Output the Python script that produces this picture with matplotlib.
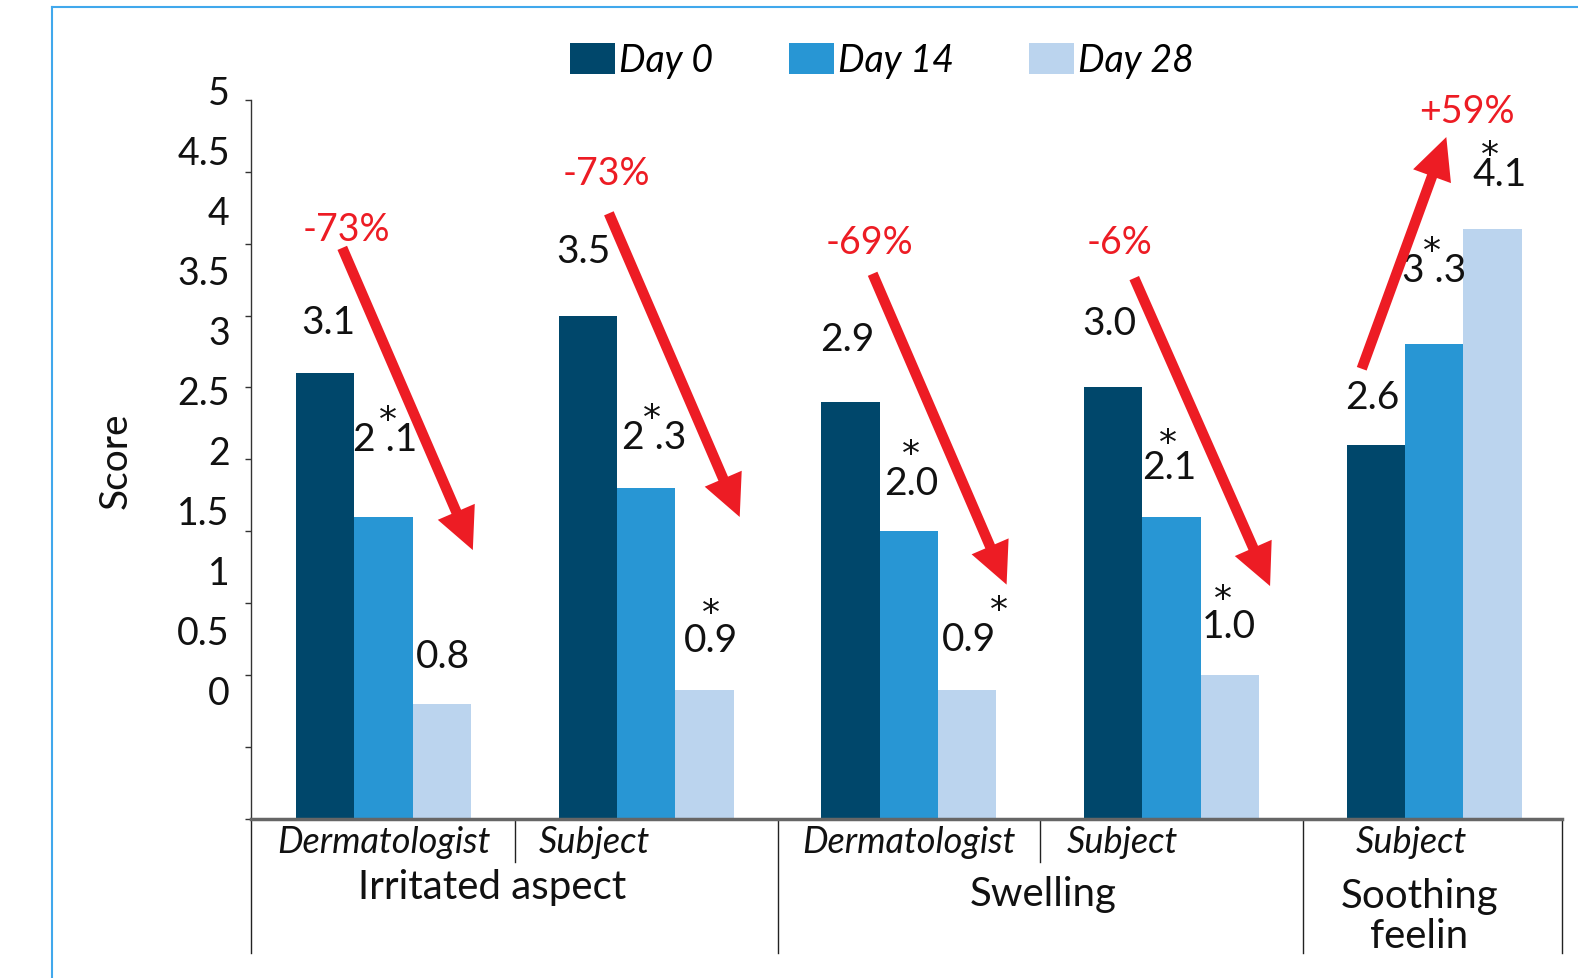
import matplotlib
matplotlib.use("Agg")
import numpy as np
import matplotlib.pyplot as plt
from matplotlib.lines import Line2D
from matplotlib.patches import Patch

plt.rcParams['font.family'] = ['Lato', 'DejaVu Sans']

# data
days = ['Day 0', 'Day 14', 'Day 28']
raters = ['Dermatologist', 'Subject', 'Dermatologist', 'Subject', 'Subject']
groups = ['Irritated aspect', 'Swelling', 'Soothing\nfeelin']
group_of = [0, 0, 1, 1, 2]
day0 = [3.1, 3.5, 2.9, 3.0, 2.6]
day14 = [2.1, 2.3, 2.0, 2.1, 3.3]
day28 = [0.8, 0.9, 0.9, 1.0, 4.1]
star14 = [True, True, True, True, True]
star28 = [False, True, True, True, True]
changes = ['-73%', '-73%', '-69%', '-6%', '+59%']
yticks = np.arange(0, 5.01, 0.5)
ytick_labels = ['0', '0.5', '1', '1.5', '2', '2.5', '3', '3.5', '4', '4.5', '5']

colors = ['#00476B', '#2896D4', '#BBD4EE']
red = '#ED1C24'
ink = '#111111'
W, H = 1578, 979
S = 1578 / 1568  # layout measured on a slightly shrunk copy

fig = plt.figure(figsize=(W / 100, H / 100), dpi=100)
ax = fig.add_axes([249 * S / W, 1 - 815 * S / H, 1303 * S / W, 715 * S / H])

w = 58 / 261
x = np.arange(len(raters))
series = [day0, day14, day28]
for i, vals in enumerate(series):
    ax.bar(x + (i - 1) * w, vals, w, color=colors[i], label=days[i])

ax.set_xlim(-0.506, 4.486)
ax.set_ylim(0, 5)
ax.set_yticks(yticks)
ax.set_yticklabels([])
ax.set_xticks([])
ax.tick_params(axis='y', direction='out', length=4.5, width=1, color='#333333')
ax.spines['top'].set_visible(False)
ax.spines['right'].set_visible(False)
ax.spines['left'].set_color('#333333')
ax.spines['left'].set_linewidth(1)
ax.spines['bottom'].set_color('#666666')
ax.spines['bottom'].set_linewidth(2.5)

# tick labels sit on their own (shifted) scale, like the original
lab = fig.add_axes([249 * S / W, 1 - 686 * S / H, 0.0001, (686 - 90) * S / H])
lab.set_ylim(0, 5)
lab.set_yticks(yticks)
lab.set_yticklabels(ytick_labels, fontsize=27, color=ink)
lab.tick_params(axis='y', length=0, pad=15)
lab.set_xticks([])
for s in lab.spines.values():
    s.set_visible(False)
lab.patch.set_visible(False)

fig.text(115 * S / W, 1 - 458 * S / H, 'Score', rotation=90, ha='center', va='center',
         fontsize=28, color=ink)

# value labels (offsets in px: dx, dy from bar top)
lab_off = [
    [(3, 51), (2, 77), (1, 48)],
    [(-4, 64), (8, 51), (6, 49)],
    [(-3, 62), (2, 48), (2, 50)],
    [(-4, 64), (-2, 50), (-1, 49)],
    [(-4, 48), (0, 74), (7, 55)],
]
star_off = [
    [None, (2, 25), None],
    [None, (-2, 25), (0, 33)],
    [None, (0, 35), (30, 35)],
    [None, (-2, 30), (-6, 33)],
    [None, (-2, 25), (-10, 25)],
]
gap = [[False, True, False], [False, True, False], [False, False, False],
       [False, False, False], [False, True, False]]
k = 0.72 * S
for g in range(len(raters)):
    for i, vals in enumerate(series):
        v = vals[g]
        txt = f'{v:.1f}'
        if gap[g][i]:
            txt = txt.replace('.', ' .')
        dx, dy = lab_off[g][i]
        ax.annotate(txt, (x[g] + (i - 1) * w, v), xytext=(dx * k, dy * k),
                    textcoords='offset points', ha='center', va='center',
                    fontsize=28, color=ink, annotation_clip=False)
        flag = [False, star14[g], star28[g]][i]
        if flag:
            sx, sy = star_off[g][i]
            ax.annotate('*', (x[g] + (i - 1) * w, v),
                        xytext=((dx + sx) * k, (dy + sy - 6) * k),
                        textcoords='offset points', ha='center', va='center',
                        fontsize=26, family='DejaVu Sans', color=ink,
                        annotation_clip=False)

# change arrows (tail, tip relative to cluster centre, data units)
arrows = [((-0.157, 3.97), (0.34, 1.87)),
          ((-0.142, 4.21), (0.356, 2.10)),
          ((-0.138, 3.79), (0.372, 1.63)),
          ((-0.142, 3.76), (0.375, 1.62)),
          ((-0.276, 3.13), (0.046, 4.74))]
pct_pos = [(-0.142, 4.10), (-0.153, 4.49), (-0.149, 4.01), (-0.199, 4.01), (0.126, 4.92)]
for g in range(len(raters)):
    (tx, ty), (hx, hy) = arrows[g]
    ax.annotate('', xy=(x[g] + hx, hy), xytext=(x[g] + tx, ty),
                arrowprops=dict(facecolor=red, edgecolor='none', width=7.5,
                                headwidth=29, headlength=30, shrink=0),
                annotation_clip=False)
    px, py = pct_pos[g]
    ax.text(x[g] + px, py, changes[g], ha='center', va='center', fontsize=27,
            color=red, clip_on=False)

# category axis below
tr = ax.get_xaxis_transform()
for xv in [-0.506, 1.5, 3.5, 4.486]:
    ax.add_line(Line2D([xv, xv], [0, -0.186], transform=tr, color='#222222',
                       lw=1, clip_on=False))
for xv in [0.5, 2.5]:
    ax.add_line(Line2D([xv, xv], [0, -0.059], transform=tr, color='#222222',
                       lw=1, clip_on=False))

sub_dx = [0, -0.199, 0, -0.188, -0.088]
for g, r in enumerate(raters):
    ax.text(x[g] + sub_dx[g], -0.0308, r, transform=tr, ha='center', va='center',
            fontsize=26, style='italic', color=ink)

grp_dx = [-0.088, 0.011, -0.057]
grp_y = [-0.0937, -0.103, -0.134]
for j, name in enumerate(groups):
    members = [g for g in range(len(raters)) if group_of[g] == j]
    cx = np.mean(x[members]) + grp_dx[j]
    ax.text(cx, grp_y[j], name, transform=tr, ha='center', va='center',
            fontsize=29, color=ink, linespacing=1.1)

# legend
handles = [Patch(facecolor=c, edgecolor='none') for c in colors]
leg = fig.legend(handles, days, loc='center', bbox_to_anchor=(876.5 * S / W, 1 - 61 * S / H),
                 ncol=3, frameon=False, handlelength=1.2, handleheight=0.9,
                 handletextpad=0.12, columnspacing=2.0, borderpad=0,
                 prop=dict(size=27, style='italic'))

# thin blue frame on top and left
fig.add_artist(Line2D([52 * S / W, 1], [1 - 8 * S / H, 1 - 8 * S / H],
                      transform=fig.transFigure, color='#41A8EC', lw=1.5))
fig.add_artist(Line2D([52 * S / W, 52 * S / W], [0, 1 - 8 * S / H],
                      transform=fig.transFigure, color='#41A8EC', lw=1.5))

fig.savefig('out.png', dpi=100)
